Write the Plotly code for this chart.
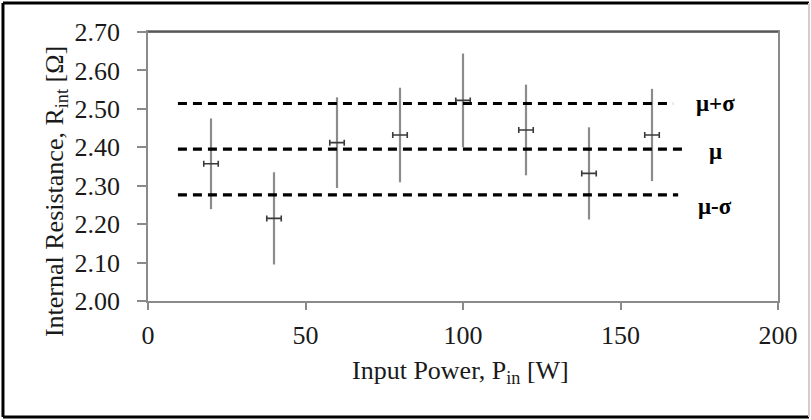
import plotly.graph_objects as go

# ---- data ----
power_w = [20, 40, 60, 80, 100, 120, 140, 160]
resistance = [2.357, 2.215, 2.412, 2.432, 2.522, 2.445, 2.332, 2.432]
resistance_err = [0.118, 0.120, 0.118, 0.123, 0.122, 0.118, 0.120, 0.120]
power_err = [2.3, 2.3, 2.3, 2.3, 2.3, 2.3, 2.3, 2.3]

stat_names = ["μ+σ", "μ", "μ-σ"]
stat_values = [2.514, 2.395, 2.276]
stat_x_start = [9.5, 9.5, 9.5]
stat_x_end = [166.7, 170.8, 168.3]
stat_label_x = [180, 180, 180]
stat_label_y = [2.513, 2.390, 2.245]

x_ticks = [0, 50, 100, 150, 200]
y_ticks = [2.00, 2.10, 2.20, 2.30, 2.40, 2.50, 2.60, 2.70]

FONT = "Liberation Serif, Times New Roman, serif"

fig = go.Figure()

fig.add_trace(go.Scatter(
    x=power_w, y=resistance, mode="markers",
    marker=dict(size=1, color="rgba(0,0,0,0)"),
    error_y=dict(type="data", array=resistance_err, visible=True,
                 color="#8c8c8c", thickness=2.2, width=0),
    error_x=dict(type="data", array=power_err, visible=True,
                 color="#3a3a3a", thickness=1.6, width=3),
    showlegend=False, hoverinfo="skip",
))

for name, val, x0, x1 in zip(stat_names, stat_values, stat_x_start, stat_x_end):
    fig.add_trace(go.Scatter(
        x=[x0, x1], y=[val, val], mode="lines", name=name,
        line=dict(color="black", width=3.2, dash="9px,6px"),
        showlegend=False, hoverinfo="skip",
    ))

annotations = []
for name, lx, ly in zip(stat_names, stat_label_x, stat_label_y):
    annotations.append(dict(
        x=lx, y=ly, xref="x", yref="y", text="<b>%s</b>" % name,
        showarrow=False, xanchor="center", yanchor="middle",
        font=dict(family=FONT, size=23, color="black"),
    ))

annotations.append(dict(
    x=0.4968, y=-0.264, xref="paper", yref="paper",
    text="Input Power, P<sub>in</sub> [W]", showarrow=False,
    xanchor="center", yanchor="middle",
    font=dict(family=FONT, size=26, color="#1a1a1a"),
))
annotations.append(dict(
    x=-0.146, y=0.405, xref="paper", yref="paper",
    text="Internal Resistance, R<sub>int</sub> [Ω]", showarrow=False,
    textangle=-90, xanchor="center", yanchor="middle",
    font=dict(family=FONT, size=26, color="#1a1a1a"),
))

# outer frame
shapes = [
    dict(type="line", xref="paper", yref="paper", x0=-0.2302, x1=-0.2302, y0=-0.4312, y1=1.1078,
         line=dict(color="black", width=3)),
    dict(type="line", xref="paper", yref="paper", x0=-0.2302, x1=1.0492, y0=1.1078, y1=1.1078,
         line=dict(color="black", width=3)),
    dict(type="line", xref="paper", yref="paper", x0=-0.2302, x1=1.0492, y0=-0.4312, y1=-0.4312,
         line=dict(color="black", width=3)),
    dict(type="line", xref="paper", yref="paper", x0=1.0492, x1=1.0492, y0=-0.4312, y1=1.1078,
         line=dict(color="#cfcfcf", width=2)),
    # darker top border of plot area
    dict(type="line", xref="paper", yref="paper", x0=0, x1=1, y0=1, y1=1,
         line=dict(color="#444444", width=1.5)),
]

fig.update_layout(
    width=811, height=420,
    margin=dict(l=148, r=33, t=32, b=119),
    paper_bgcolor="white", plot_bgcolor="white",
    font=dict(family=FONT, size=26, color="#1a1a1a"),
    annotations=annotations, shapes=shapes,
    showlegend=False,
)

fig.update_xaxes(
    range=[0, 200], tickvals=x_ticks, ticktext=[str(v) for v in x_ticks],
    showgrid=False, zeroline=False,
    showline=True, linecolor="#8a8a8a", linewidth=1.5, mirror=True,
    ticks="outside", ticklen=7, tickcolor="#8a8a8a", tickwidth=1.5,
    tickfont=dict(family=FONT, size=26, color="#1a1a1a"),
    ticklabelstandoff=3,
)
fig.update_yaxes(
    range=[2.0, 2.7], tickvals=y_ticks, ticktext=["%.2f" % v for v in y_ticks],
    showgrid=False, zeroline=False,
    showline=True, linecolor="#8a8a8a", linewidth=1.5, mirror=True,
    ticks="outside", ticklen=9, tickcolor="#8a8a8a", tickwidth=1.5,
    tickfont=dict(family=FONT, size=26, color="#1a1a1a"),
    ticklabelstandoff=12,
)

fig.write_html(
    "out.html",
    config={"displayModeBar": False},
    post_script="document.body.style.margin='0';document.body.style.overflow='hidden';",
)
